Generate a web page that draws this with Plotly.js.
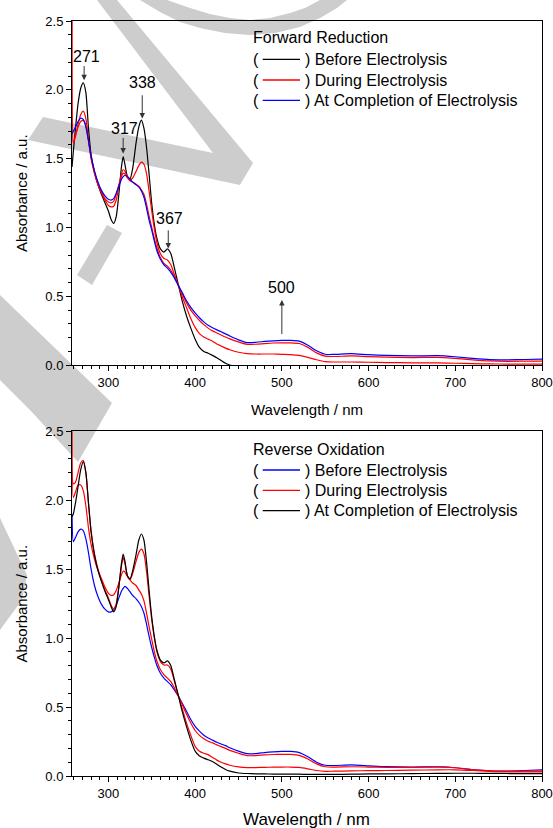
<!DOCTYPE html>
<html>
<head>
<meta charset="utf-8">
<script src="https://cdn.plot.ly/plotly-3.0.1.min.js"></script>
<style>html,body{margin:0;padding:0;background:#fff;}#chart{width:553px;height:828px;}</style>
</head>
<body>
<div id="chart"></div>
<script>
// ---------- data ----------
const wavelength = [258,259.5,262,265,268,271,274,277,280,284,288,292,296,300,303,306,309,312,315,317,319,322,325,328,332,335,338,341,344,347,350,353,356,360,364,368,372,376,381,385,390,395,400,405,410,415,420,425,430,435,440,450,460,470,480,490,500,510,520,530,540,550,560,580,600,620,650,680,700,720,740,760,780,800];

// Forward Reduction
const fwdBefore = [1.44,1.55,1.72,1.90,2.01,2.05,1.98,1.72,1.53,1.40,1.31,1.24,1.18,1.12,1.06,1.03,1.08,1.24,1.44,1.515,1.46,1.37,1.355,1.43,1.62,1.73,1.78,1.72,1.58,1.38,1.17,1.02,0.92,0.845,0.822,0.845,0.81,0.71,0.575,0.47,0.36,0.27,0.19,0.13,0.10,0.088,0.072,0.055,0.035,0.015,0.002,-0.01,-0.01,-0.01,-0.01,-0.01,-0.01,-0.01,-0.01,-0.01,-0.01,-0.01,-0.01,-0.01,-0.01,-0.01,-0.01,-0.01,-0.01,-0.01,-0.01,-0.01,-0.01,-0.01];
const fwdDuringEarly = [2.8,1.61,1.66,1.75,1.82,1.845,1.79,1.64,1.50,1.39,1.31,1.25,1.20,1.16,1.15,1.155,1.20,1.30,1.39,1.42,1.41,1.365,1.345,1.36,1.41,1.45,1.475,1.46,1.39,1.26,1.12,0.99,0.89,0.81,0.775,0.765,0.73,0.66,0.575,0.50,0.42,0.34,0.275,0.23,0.205,0.19,0.175,0.155,0.14,0.125,0.113,0.095,0.085,0.082,0.082,0.082,0.08,0.078,0.072,0.058,0.04,0.026,0.024,0.024,0.022,0.02,0.018,0.017,0.015,0.012,0.01,0.009,0.008,0.008];
const fwdDuringLate = [2.8,1.62,1.67,1.73,1.77,1.778,1.74,1.63,1.51,1.40,1.32,1.26,1.21,1.185,1.18,1.19,1.24,1.31,1.37,1.395,1.39,1.36,1.34,1.33,1.315,1.30,1.275,1.24,1.17,1.08,1.00,0.92,0.85,0.78,0.74,0.72,0.69,0.645,0.575,0.52,0.455,0.40,0.36,0.325,0.295,0.27,0.25,0.235,0.22,0.205,0.192,0.17,0.152,0.153,0.158,0.162,0.163,0.163,0.158,0.13,0.09,0.066,0.064,0.068,0.063,0.06,0.056,0.058,0.05,0.04,0.032,0.029,0.03,0.031];
const fwdCompletion = [1.68,1.70,1.73,1.77,1.795,1.785,1.73,1.63,1.52,1.41,1.33,1.27,1.23,1.205,1.20,1.21,1.25,1.30,1.35,1.37,1.378,1.37,1.35,1.33,1.31,1.295,1.265,1.22,1.14,1.05,0.98,0.90,0.83,0.77,0.73,0.705,0.675,0.635,0.575,0.53,0.47,0.42,0.38,0.345,0.315,0.29,0.272,0.257,0.243,0.228,0.213,0.185,0.165,0.167,0.173,0.178,0.181,0.181,0.175,0.145,0.105,0.08,0.079,0.085,0.077,0.072,0.068,0.07,0.062,0.05,0.041,0.04,0.042,0.045];

// Reverse Oxidation
const revBefore = [1.90,1.70,1.73,1.77,1.79,1.78,1.72,1.62,1.50,1.38,1.30,1.245,1.21,1.19,1.19,1.205,1.24,1.29,1.34,1.36,1.375,1.36,1.335,1.31,1.285,1.26,1.23,1.18,1.10,1.01,0.93,0.86,0.80,0.745,0.71,0.685,0.66,0.625,0.575,0.53,0.47,0.41,0.36,0.325,0.295,0.275,0.26,0.245,0.232,0.22,0.205,0.18,0.162,0.163,0.17,0.175,0.178,0.178,0.17,0.14,0.10,0.078,0.076,0.08,0.074,0.068,0.065,0.066,0.06,0.046,0.037,0.036,0.04,0.045];
const revDuringEarly = [2.8,2.02,2.06,2.11,2.11,2.07,1.96,1.80,1.68,1.57,1.49,1.43,1.37,1.325,1.31,1.315,1.345,1.40,1.46,1.485,1.48,1.445,1.42,1.40,1.38,1.35,1.32,1.27,1.18,1.08,0.99,0.90,0.83,0.77,0.735,0.71,0.685,0.64,0.575,0.52,0.45,0.385,0.33,0.295,0.27,0.252,0.24,0.226,0.213,0.20,0.186,0.165,0.148,0.148,0.153,0.156,0.157,0.157,0.15,0.123,0.088,0.067,0.065,0.067,0.065,0.063,0.062,0.066,0.06,0.047,0.038,0.035,0.035,0.036];
const revDuringLate = [2.8,2.12,2.13,2.20,2.27,2.29,2.20,1.98,1.78,1.61,1.50,1.42,1.35,1.29,1.24,1.21,1.25,1.37,1.52,1.585,1.54,1.45,1.425,1.47,1.56,1.62,1.645,1.61,1.48,1.30,1.13,1.00,0.90,0.83,0.805,0.805,0.775,0.69,0.575,0.49,0.385,0.295,0.215,0.18,0.165,0.155,0.135,0.115,0.10,0.088,0.078,0.066,0.061,0.061,0.063,0.064,0.065,0.065,0.062,0.052,0.04,0.034,0.035,0.037,0.039,0.04,0.042,0.045,0.045,0.04,0.033,0.03,0.03,0.03];
const revCompletion = [1.88,1.90,1.98,2.10,2.22,2.28,2.20,1.98,1.77,1.60,1.49,1.41,1.34,1.28,1.23,1.19,1.23,1.37,1.54,1.61,1.56,1.45,1.43,1.49,1.61,1.71,1.755,1.71,1.55,1.34,1.15,1.01,0.91,0.84,0.82,0.835,0.80,0.70,0.575,0.47,0.36,0.26,0.18,0.145,0.13,0.118,0.105,0.085,0.065,0.047,0.035,0.022,0.018,0.016,0.015,0.014,0.014,0.013,0.013,0.012,0.012,0.012,0.012,0.013,0.015,0.016,0.017,0.019,0.02,0.02,0.019,0.018,0.017,0.017];

// labels
const fwdTitle = 'Forward Reduction';
const revTitle = 'Reverse Oxidation';
const stageLabels = ['Before Electrolysis', 'During Electrolysis', 'At Completion of Electrolysis'];
const fwdColors = ['#000000', '#ff0000', '#0000ff'];
const revColors = ['#0000ff', '#ff0000', '#000000'];
const xTitle = 'Wavelength / nm';
const yTitle = 'Absorbance / a.u.';

// peak markers (top panel): label, arrow x, arrow tip, arrow tail, label position
const peakLabels = ['271', '317', '338', '367', '500'];
const peakArrowX = [272, 317, 339, 369, 500];
const peakTip    = [2.07, 1.538, 1.792, 0.849, 0.474];
const peakTail   = [2.18, 1.658, 1.968, 0.987, 0.22];
const peakTextX  = [275, 318, 339, 371, 500];
const peakTextY  = [2.244, 1.719, 2.05, 1.066, 0.566];

// ---------- geometry helpers (pixel -> paper) ----------
const L = 72, R = 11, T = 21, B = 52, W = 553, H = 828;
const PW = W - L - R, PH = H - T - B;
const px = v => (v - L) / PW;
const py = v => (H - B - v) / PH;

const FONT = 'Liberation Sans, Arial, Helvetica, sans-serif';
const lw = 1.2;

function tr(y, color, xa, ya) {
  return {x: wavelength, y: y, type: 'scatter', mode: 'lines', xaxis: xa, yaxis: ya,
          line: {color: color, width: lw, shape: 'spline', smoothing: 0.6}, showlegend: false, hoverinfo: 'skip'};
}

const data = [
  tr(fwdBefore, fwdColors[0], 'x', 'y'),
  tr(fwdDuringEarly, fwdColors[1], 'x', 'y'),
  tr(fwdDuringLate, fwdColors[1], 'x', 'y'),
  tr(fwdCompletion, fwdColors[2], 'x', 'y'),
  tr(revBefore, revColors[0], 'x2', 'y2'),
  tr(revDuringEarly, revColors[1], 'x2', 'y2'),
  tr(revDuringLate, revColors[1], 'x2', 'y2'),
  tr(revCompletion, revColors[2], 'x2', 'y2')
];

function xax(anchor) {
  return {range: [258, 800], domain: [0, 1], anchor: anchor, showline: true, linecolor: '#000', linewidth: 1,
          mirror: true, ticks: 'outside', ticklen: 5, tickwidth: 1, tickcolor: '#000', tick0: 0, dtick: 100,
          minor: {dtick: 10, ticks: 'outside', ticklen: 3, tickwidth: 1, tickcolor: '#000'},
          showgrid: false, zeroline: false, tickfont: {family: FONT, size: 13, color: '#000'}, fixedrange: true};
}
function yax(anchor, dom) {
  return {range: [0, 2.5], domain: dom, anchor: anchor, showline: true, linecolor: '#000', linewidth: 1,
          mirror: true, ticks: 'outside', ticklen: 5, tickwidth: 1, tickcolor: '#000', tick0: 0, dtick: 0.5,
          tickformat: '.1f',
          minor: {dtick: 0.1, ticks: 'outside', ticklen: 3, tickwidth: 1, tickcolor: '#000'},
          showgrid: false, zeroline: false, tickfont: {family: FONT, size: 13, color: '#000'}, fixedrange: true};
}

const annotations = [];
const shapes = [];

// axis titles
function txt(x, y, text, size, opts) {
  return Object.assign({xref: 'paper', yref: 'paper', x: px(x), y: py(y), text: text, showarrow: false,
    font: {family: FONT, size: size, color: '#000'}, xanchor: 'center', yanchor: 'middle'}, opts || {});
}
annotations.push(txt(306.5, 409, xTitle, 15));
annotations.push(txt(306.5, 819.5, xTitle, 17));
annotations.push(txt(21, 193, yTitle, 15, {textangle: -90}));
annotations.push(txt(21, 603.5, yTitle, 15, {textangle: -90}));

// manual legends
function legend(title, colors, titleY, rowYs) {
  annotations.push(txt(251, titleY, title, 16, {xanchor: 'left'}));
  for (let i = 0; i < stageLabels.length; i++) {
    annotations.push(txt(251, rowYs[i], '(', 16, {xanchor: 'left'}));
    annotations.push(txt(302.5, rowYs[i], ') ' + stageLabels[i], 16, {xanchor: 'left'}));
    shapes.push({type: 'line', xref: 'paper', yref: 'paper', x0: px(262.7), x1: px(300), y0: py(rowYs[i]), y1: py(rowYs[i]),
                 line: {color: colors[i], width: 1.3}});
  }
}
legend(fwdTitle, fwdColors, 37.3, [59.3, 80, 100.3]);
legend(revTitle, revColors, 449.3, [470, 490.3, 510.7]);

// peak annotations
for (let i = 0; i < peakLabels.length; i++) {
  annotations.push({xref: 'x', yref: 'y', x: peakTextX[i], y: peakTextY[i], text: peakLabels[i], showarrow: false,
    font: {family: FONT, size: 16, color: '#000'}, xanchor: 'center', yanchor: 'middle'});
  annotations.push({xref: 'x', yref: 'y', axref: 'x', ayref: 'y', x: peakArrowX[i], y: peakTip[i],
    ax: peakArrowX[i], ay: peakTail[i], text: ' ', showarrow: true, arrowhead: 2, arrowsize: 1.1, arrowwidth: 1,
    arrowcolor: '#333', font: {size: 1}, borderpad: 0, standoff: 0, startstandoff: 0});
}

// watermark (light gray background shapes), in pixel coordinates
const wmPolys = [
  [[97,0],[117,0],[253,163],[240,185],[28,140],[43,117],[213,153]],
  [[77,275],[107,225],[122,233],[92,285]],
  [[0,295],[112,403],[78,462],[30,410],[0,380]],
  [[0,518],[27,575],[22,600],[0,630]],
  [[140,0],[160,12],[180,22],[200,28],[225,33],[250,35],[275,33],[300,27],[320,18],[337,8],[347,0],
   [320,0],[305,8],[290,13],[270,18],[250,20],[230,18],[210,14],[190,8],[167,0]]
];
for (const poly of wmPolys) {
  const path = poly.map((p, k) => (k ? 'L' : 'M') + px(p[0]).toFixed(4) + ',' + py(p[1]).toFixed(4)).join(' ') + ' Z';
  shapes.push({type: 'path', xref: 'paper', yref: 'paper', path: path, fillcolor: 'rgb(205,205,205)',
               line: {width: 0}, layer: 'below'});
}

const layout = {
  width: W, height: H,
  margin: {l: L, r: R, t: T, b: B, pad: 0},
  paper_bgcolor: '#ffffff', plot_bgcolor: 'rgba(0,0,0,0)',
  font: {family: FONT, color: '#000'},
  showlegend: false,
  xaxis: xax('y'),
  yaxis: yax('x', [py(365.3), 1]),
  xaxis2: xax('y2'),
  yaxis2: yax('x2', [0, py(431.3)]),
  annotations: annotations,
  shapes: shapes
};

Plotly.newPlot('chart', data, layout, {displayModeBar: false, staticPlot: true});
</script>
</body>
</html>
